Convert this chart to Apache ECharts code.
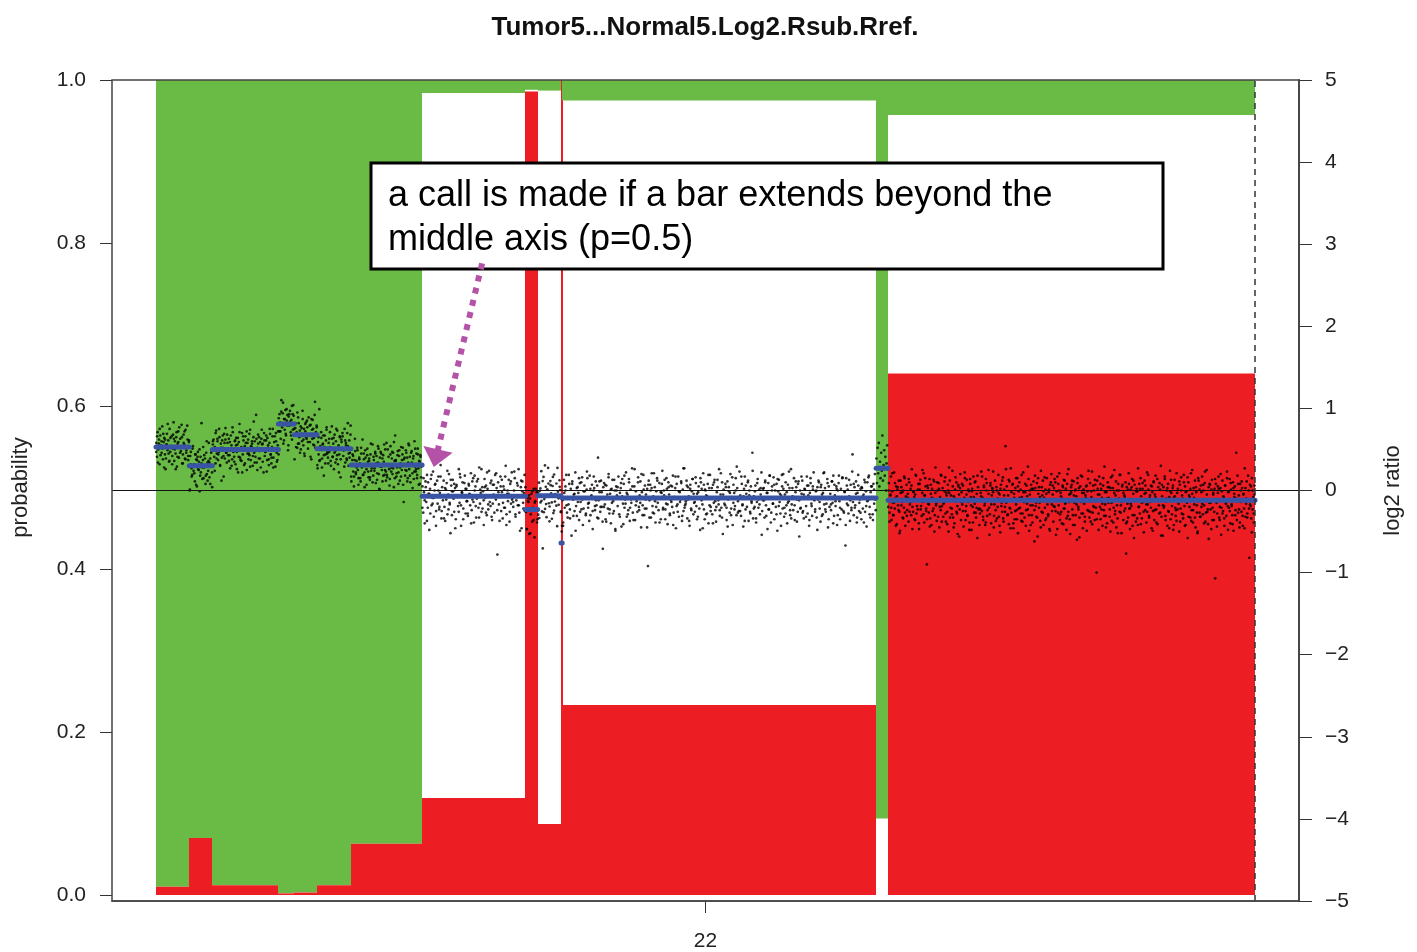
<!DOCTYPE html>
<html><head><meta charset="utf-8">
<script src="https://cdn.jsdelivr.net/npm/echarts@6/dist/echarts.min.js"></script>
<style>html,body{margin:0;padding:0;background:#fff}#c{width:1417px;height:952px}</style>
</head><body><div id="c"></div>
<script>
// ---------- data (positions in Mb along chromosome 22) ----------
const chromLabels = ['22'];
const segStart = [15.00,16.11,16.88,19.08,19.61,20.37,21.50,23.87,27.31,27.72,28.50,28.54,39.00,39.40];
const segEnd   = [16.11,16.88,19.08,19.61,20.37,21.50,23.87,27.31,27.72,28.50,28.54,39.00,39.40,51.63];
const pGain    = [0.990,0.930,0.988,0.998,0.997,0.988,0.937,0.016,0.012,0.013,0.000,0.025,0.906,0.043];
const pLoss    = [0.010,0.070,0.012,0.002,0.003,0.012,0.063,0.119,0.986,0.087,1.000,0.233,0.000,0.640];
const segMean  = [0.53,0.30,0.50,0.81,0.68,0.51,0.31,-0.07,-0.23,-0.065,-0.64,-0.09,0.27,-0.12];
const probTicks = [0,0.2,0.4,0.6,0.8,1.0];
const ratioTicks = [-5,-4,-3,-2,-1,0,1,2,3,4,5];

// probe residuals (hundredths of log2 ratio, relative to segment mean), two probe sets per region
const regionStart = [15.00,23.87,39.00,39.40];
const regionEnd   = [23.87,39.00,39.40,51.63];
const residA = [
5,-12,18,-3,9,-21,14,2,-7,25,-15,6,11,-9,-27,3,16,-4,8,-18,
22,-6,1,13,-11,-2,30,-17,7,-8,12,-24,4,19,-13,-1,10,-5,27,-20,
-9,15,3,-14,21,-7,0,9,-16,6,-30,12,17,-3,-11,24,-6,2,-19,14,
8,-25,11,-4,5,20,-12,-8,52,-2,7,-15,13,1,-22,16,-10,4,-6,28,
-14,9,-1,18,-26,6,12,-9,3,-17,23,-5,10,-13,-3,15,-20,7,-38,11,
2,-8,19,-11,26,-4,-16,8,0,13,-7,-23,17,5,-12,21,-2,-9,10,-18,
14,-3,6,-28,9,31,-10,1,-14,20,-6,11,-19,4,16,-1,-25,8,12,-5,
-7,24,-13,3,7,-20,15,-4,10,-9,42,-16,2,18,-11,-2,9,-22,13,6,
-15,1,20,-8,-3,11,-27,14,5,-12,8,19,-6,-17,3,25,-10,0,16,-21,
10,-4,-13,22,7,-9,2,-18,29,-1,13,-24,6,-7,17,-14,4,11,-32,9,
-2,16,-10,5,-19,12,23,-6,-1,8,-15,3,27,-11,14,-3,-22,10,1,-8,
19,-13,7,-26,4,15,-5,9,-17,21,0,-9,12,-30,6,18,-12,-4,24,-16,
3,11,-20,8,-7,48,-14,-1,13,-23,5,16,-8,2,-18,10,26,-6,-11,7,
-4,20,-15,1,12,-10,6,-25,17,-3,9,-13,22,-19,4,-7,14,-35,11,0,
15,-9,-2,24,-17,7,-12,19,3,-21,10,-5,28,-14,1,13,-8,-26,6,17,
-11,5,21,-6,-16,9,2,-20,14,-3,31,-12,7,-9,18,-1,-24,12,4,-15,
8,-18,13,-7,0,25,-13,6,-4,16,-22,11,-10,3,20,-29,9,-2,14,-6,
-20,12,4,-12,19,-8,27,-15,1,10,-5,-17,23,-3,8,-11,15,-27,5,36,
6,-14,-3,17,-9,11,-19,2,22,-6,13,-24,7,-1,-13,18,-7,9,-16,26,
-5,10,-21,15,3,-10,8,-17,29,-2,-8,14,-12,20,-4,5,-23,12,-15,1];
const residA2 = [
-6,13,-19,4,22,-10,7,-2,16,-25,9,-14,3,28,-8,-17,11,1,-21,15,
10,-3,-27,18,-12,6,24,-7,-1,12,-20,5,19,-15,-4,26,-11,8,-29,2,
-13,21,0,-9,14,-23,7,17,-5,-31,11,3,-16,23,-2,9,-12,30,-18,6,
4,-22,16,-8,10,-1,-26,20,-11,13,-6,25,-19,2,-10,17,-33,8,12,-4,
18,-7,-14,9,1,-20,27,-3,-15,11,5,-24,14,-9,21,-13,3,-28,16,-1,
-17,8,22,-5,-12,19,-21,4,10,-8,34,-16,-2,13,-25,7,15,-11,0,24,
7,-28,11,-3,17,-13,2,-19,25,-6,-10,16,-22,9,-1,20,-15,5,-37,12,
-9,15,-4,26,-20,6,-12,18,-2,-26,12,3,-14,22,-7,10,-30,14,1,-16,
21,-11,5,-18,8,29,-6,-23,13,-3,17,-9,-1,11,-27,19,-5,7,-13,40,
-1,9,-24,14,-15,3,20,-12,6,-33,16,-7,23,-4,-18,12,2,-21,27,-10,
13,-5,-17,24,-8,1,-29,15,-13,8,19,-2,-22,10,4,-14,31,-6,-11,17,
-20,6,11,-14,32,-9,-3,18,-24,7,-16,21,0,-12,14,-27,9,-5,20,-8,
5,-15,26,-4,-21,10,-7,14,2,-18,23,-11,-30,16,-2,8,-13,25,-6,-19,
-12,19,-1,-25,13,-8,16,-4,28,-16,5,-10,12,-23,18,-3,-14,6,21,-45,
9,-6,15,-20,3,24,-13,-1,17,-28,11,-8,20,-5,-16,13,-24,4,10,-2];
const residB = [
12,-20,5,-33,18,-7,26,-14,3,-41,9,21,-11,-2,30,-25,7,15,-18,1,
-9,24,-16,4,38,-27,11,-5,19,-13,-30,8,16,-22,2,27,-10,-45,13,6,
20,-3,-19,10,-28,14,1,-12,33,-8,23,-36,5,17,-15,-1,25,-21,9,-6,
-24,15,3,-11,28,-17,-4,22,-32,7,12,-26,18,0,-14,35,-9,4,-19,11,
6,-35,21,-2,13,-23,9,-16,31,-7,-12,19,-29,14,2,-20,26,-4,10,-71,
17,-10,-1,24,-18,5,-27,12,8,-14,37,-22,3,-6,20,-31,15,-9,29,-2,
-13,7,22,-25,-5,16,-11,33,-20,1,11,-39,18,-8,4,-17,27,-3,-24,14,
9,-30,13,-6,19,-15,2,25,-34,10,-1,21,-12,-23,16,6,-8,30,-19,-64,
23,-4,-16,11,-26,8,34,-9,-13,18,3,-28,12,-21,26,-7,0,15,-37,5,
-11,19,7,-20,14,-3,-30,22,-12,9,28,-18,1,-8,17,-25,11,-46,20,-2,
4,-16,31,-10,-22,13,6,-27,18,-5,-14,25,-33,8,15,-1,-19,10,24,-12,
-6,27,-21,2,16,-38,9,12,-15,20,-9,-24,49,-3,7,-17,21,-11,-29,13,
18,-8,-26,15,1,-13,29,-19,5,-31,11,22,-4,-16,9,-40,14,3,-10,26,
-20,6,12,-35,23,-7,17,-12,-2,31,-23,4,-15,19,-28,10,-6,36,-18,0,
14,-27,8,-4,-17,25,-11,3,20,-36,7,-9,28,-21,15,-2,-13,11,-83,21,
-3,16,-24,30,-10,2,-19,13,-30,8,24,-6,-15,18,-1,-26,6,33,-12,9,
22,-14,-7,11,-32,19,4,-21,15,-5,-11,27,-18,1,12,-37,17,-8,26,-23,
7,-2,18,-28,10,-16,36,-9,-4,21,-25,13,2,-34,16,-13,8,23,-20,-6,
-17,25,-10,5,-23,14,-1,-39,19,11,-8,30,-14,-26,9,3,-19,17,-31,12,
28,-11,0,-20,16,-6,22,-15,-29,7,13,-3,35,-22,4,-12,19,-44,10,-7,
-9,13,-27,20,-2,8,-18,29,-13,1,-33,16,6,-10,24,-21,12,-4,-16,32,
3,-22,17,-8,-35,11,26,-14,5,-1,19,-28,9,-17,14,-6,55,-25,2,-11,
15,-30,-5,23,-12,10,-20,4,31,-16,-3,12,-24,21,-9,6,-38,18,-14,27,
-1,-18,14,-7,25,-26,9,-11,17,-40,8,22,-5,-19,3,28,-13,11,-23,4,
19,-9,-31,16,-4,12,-21,35,-8,2,-15,24,-27,7,13,-2,-17,20,-47,9,
-12,5,21,-16,-25,11,1,-10,26,-19,15,-34,6,18,-7,-22,10,31,-3,-14,
8,-24,13,-2,19,-13,-29,16,4,-20,30,-8,12,-17,-1,23,-36,14,-11,5,
-15,20,-6,27,-22,3,-10,14,-33,9,18,-4,-26,11,-14,25,0,-18,7,-58,
24,-7,10,-19,2,-28,16,-12,32,-5,-21,13,-9,20,-30,6,15,-16,-2,11,
-26,12,-13,4,22,-17,8,-35,19,-3,27,-11,-24,14,1,-20,17,-7,29,-15];
const residB_2 = [
-14,22,-5,11,-30,17,3,-21,26,-9,-2,14,-36,19,7,-13,24,-18,1,-27,
10,-4,31,-16,-8,20,-23,6,15,-39,12,-1,-19,27,-11,4,-28,16,9,-6,
-21,13,2,-33,18,-7,25,-12,-3,21,-26,8,33,-15,-5,11,-20,29,-10,0,
16,-25,-9,14,-1,28,-17,5,-30,12,20,-8,-14,24,-35,7,3,-19,18,-4,
-7,30,-22,1,13,-11,-42,19,6,-15,26,-3,-24,10,17,-29,-2,22,-13,8,
25,-16,4,-27,9,-6,18,-20,37,-10,-1,15,-31,13,-8,23,-18,2,-12,34,
-3,11,-19,21,-34,6,14,-9,-24,28,-14,0,17,-22,5,-40,12,-5,24,-17,
19,-2,-13,8,-21,32,-7,-28,11,3,-16,26,-10,-3,15,-25,20,-11,7,-62,
-11,16,-29,4,25,-14,10,-6,-19,22,-38,9,13,-1,-23,18,2,-32,27,-7,
6,-20,23,-12,-2,14,-27,35,-9,1,19,-15,-6,29,-21,10,-13,4,-36,16,
-24,9,12,-18,30,-4,-11,21,-1,-30,7,17,-14,3,-26,24,-8,13,-19,-3,
14,-33,1,26,-10,-17,8,-5,20,-22,36,-12,-7,15,-2,-28,11,-15,23,5,
-5,18,-26,7,-13,24,-3,-37,16,10,-20,2,28,-9,-16,12,-31,19,-4,-11,
22,-8,-15,30,-24,4,-1,17,-12,-35,13,6,-21,25,-6,-14,9,38,-18,1,
-16,26,-9,2,-28,15,-11,21,3,-19,-4,33,-13,8,-25,18,-2,-8,12,-45,
11,-3,19,-22,6,-14,27,-30,9,-7,16,-1,-20,23,-10,5,-34,14,29,-12,
-19,7,-6,32,-15,-25,12,1,-9,20,-29,17,-3,-13,26,-18,4,10,-23,15,
3,-27,24,-10,14,-2,-17,9,-39,21,-5,13,-22,6,31,-14,-7,18,-26,0,
-8,20,-31,16,-4,11,-21,27,-12,-1,24,-16,8,-33,15,-9,22,-3,-15,53,
17,-12,5,-24,28,-6,-18,13,2,-30,19,-10,-4,25,-20,7,14,-27,10,-2];
const residBB = [12,-18,25,-6,31,-22,8,-12,19,-3,40,-15,4,22,-9,14,-27,6,28,-1];
const residC = [
-8,21,-15,6,29,-24,11,-3,-18,34,-10,2,17,-29,13,-6,24,-14,-37,9,
16,-2,-21,12,-9,27,-31,5,19,-12,3,-26,22,-5,14,-18,38,-8,-14,10,
-23,7,31,-16,1,-11,20,-35,13,25,-7,-19,9,-2,33,-27,6,17,-13,-78,
18,-4,-15,26,-22,8,-30,14,2,-10,23,-18,40,-6,-25,12,-1,21,-33,4,
-12,30,-7,15,-20,-3,11,28,-26,6,-14,19,-38,9,24,-9,1,-17,36,-21,
5,-28,13,-1,22,-16,-41,17,7,-11,32,-24,10,-5,18,-32,3,27,-13,-7,
25,-19,-2,11,-27,20,4,-36,14,-8,29,-15,-4,23,-21,8,-46,16,0,-10,
-16,9,35,-13,3,-24,18,-6,-30,26,12,-19,1,37,-9,-17,21,-28,6,14,
10,-33,-5,24,-12,16,-22,2,31,-20,7,-39,19,-3,-14,28,-26,13,-8,66,
-3,17,-18,6,-29,23,-10,39,-15,1,20,-34,8,-23,15,-5,-12,27,-40,11,
22,-9,13,-25,4,-16,34,-2,-21,10,-31,18,5,-11,26,-37,12,-6,19,-18,
-27,14,1,-12,30,-7,-20,21,-44,8,16,-3,-25,36,-14,6,24,-30,3,-9,
13,-22,27,-5,-17,10,-35,19,-1,32,-13,7,-26,15,-8,22,-42,11,29,-15,
-6,33,-24,9,-14,2,18,-29,25,-10,-4,14,-36,20,-19,38,-2,-23,8,16,
19,-11,-30,23,-3,12,-18,5,-48,27,-8,15,-21,1,30,-16,9,-34,13,-4,
-20,6,17,-37,11,26,-13,-1,21,-26,4,35,-15,-7,12,-24,19,-9,-88,24,
7,-16,29,-8,-23,14,3,-31,18,-12,41,-5,-19,10,-28,22,-3,16,-11,-38,
28,-25,-2,15,-9,37,-17,6,-33,12,-22,20,2,-14,31,-6,-40,17,-1,9,
-13,4,22,-28,16,-4,-21,33,-10,-35,13,-7,26,-18,8,-46,19,0,-26,14,
11,-30,-8,20,-16,27,5,-22,14,-2,-39,24,-12,9,-27,34,-5,13,-19,3,
-2,18,-34,10,-13,23,-24,7,30,-11,1,-29,16,-6,21,-15,42,-20,5,-43,
16,-7,26,-19,-1,12,-31,20,-14,4,36,-23,9,-17,15,-36,3,25,-9,-12,
-25,9,14,-4,-38,19,-10,28,-16,2,-22,31,-7,17,-30,11,-3,-46,22,6,
4,-21,33,-12,8,-27,15,-5,24,-33,10,-15,-40,27,-1,13,-20,18,-8,29,
-17,12,-6,21,-26,1,37,-14,-29,16,-3,19,-11,-35,25,-9,7,-24,14,-95,
20,-3,-16,9,29,-21,-8,15,-42,11,24,-13,3,-31,18,-4,-19,35,-7,10,
-9,26,-28,13,-5,-18,22,-37,8,17,-12,2,-24,30,-15,6,-33,20,-2,-14,
15,-31,7,-10,39,-20,-4,23,-16,1,12,-70,19,-7,-22,27,-11,4,-27,18];
const residC2 = [
12,-26,7,-9,33,-18,-3,21,-31,5,16,-12,-40,24,-6,10,-22,29,-15,2,
-19,8,26,-14,-2,18,-35,11,4,-24,30,-7,13,-28,20,-11,-1,37,-17,6,
27,-10,-23,15,-5,-32,19,3,-13,25,-38,9,-4,22,-20,14,-8,31,-26,1,
-4,23,-16,9,-29,12,40,-21,6,-10,17,-33,2,28,-14,-7,19,-44,15,-2,
20,-13,-1,34,-24,7,-18,13,-36,26,-6,11,-27,4,22,-15,-9,30,-11,-30,
-11,5,29,-20,16,-3,-27,21,-12,8,-42,18,-5,15,35,-19,1,-25,12,-8,
9,-31,14,-7,24,-22,6,-14,38,-1,-17,25,-9,-34,10,19,-28,3,-13,27,
-23,17,-10,3,-16,31,-26,10,-2,20,-12,-4,41,-18,7,-30,14,-6,23,-50,
15,-3,-21,27,-9,4,-33,16,-15,11,28,-24,8,-1,-19,13,-37,22,-5,18,
-7,26,-13,1,-35,20,12,-17,5,-28,16,-10,24,-3,-22,32,-14,7,-41,10,
24,-18,6,-30,13,-5,21,-11,-45,17,-2,29,-16,9,-26,3,18,-12,36,-21,
-14,11,-29,18,-8,25,-1,-23,14,-36,7,20,-11,-4,27,-19,10,-33,2,16,
3,-20,15,-3,30,-27,9,-13,23,-6,-40,12,31,-15,-2,19,-24,6,-10,-65,
-26,13,20,-10,-4,16,-31,24,-18,1,11,-22,39,-8,14,-29,-3,21,-14,8,
18,-5,-14,31,-21,6,-9,17,-37,22,-12,4,-27,26,-1,-16,13,-43,19,-6,
-9,29,-24,2,15,-13,-34,11,25,-7,18,-30,5,-19,33,-11,0,23,-26,12,
6,-17,22,-31,10,-2,28,-20,-8,14,-25,37,-12,3,-21,16,-6,-38,24,-15,
-20,10,-4,19,-28,35,-15,7,-11,-47,20,-3,13,-24,9,-14,26,-1,-32,17,
14,-24,32,-9,-16,5,-22,18,-3,27,-36,11,-13,21,-7,-29,15,4,-18,58,
-1,20,-11,-27,12,23,-19,8,-34,15,2,-21,30,-10,-5,17,-39,12,-16,7];
// [region index, residual set]
const probeSets = [[0, residA], [0, residA2], [1, residB], [1, residB_2], [2, residBB], [3, residC], [3, residC2]];

// ---------- styling ----------
const GREEN = '#6aba46', RED = '#ed1d24', BLUE = '#3a54a5', ARROW = '#b452a8';
const FONT = '"Liberation Sans", Arial, Helvetica, sans-serif';

// ---------- derived ----------
const chromStart = segStart[0], chromEnd = segEnd[segEnd.length - 1];
const pad = 0.04 * (chromEnd - chromStart);
const XMIN = chromStart - pad, XMAX = chromEnd + pad;
function meanAt(x) {
  for (let i = 0; i < segStart.length; i++) if (x >= segStart[i] && x < segEnd[i]) return segMean[i];
  return segMean[segMean.length - 1];
}
const points = [];
probeSets.forEach(([r, arr], k) => {
  const s = regionStart[r], e = regionEnd[r], n = arr.length;
  const off = (k % 2) ? 0.25 : 0.5;
  arr.forEach((v, i) => {
    const x = s + (i + off) * (e - s) / n;
    points.push([x, meanAt(x) + v / 100]);
  });
});
const barData = segStart.map((s, i) => [s, segEnd[i], pGain[i], pLoss[i]]);
const segData = segStart.map((s, i) => [s, segEnd[i], segMean[i]]);

const chart = echarts.init(document.getElementById('c'), null, {renderer: 'canvas'});
const axisTxt = {fontSize: 21, color: '#222', fontFamily: FONT};
chart.setOption({
  animation: false,
  backgroundColor: '#fff',
  title: {text: 'Tumor5...Normal5.Log2.Rsub.Rref.', left: 700, top: 10, textAlign: 'center',
    textStyle: {fontSize: 26, fontWeight: 'bold', color: '#111', fontFamily: FONT}},
  grid: [
    {left: 112, top: 80, width: 1187, height: 815},
    {left: 112, top: 80, width: 1187, height: 823, show: true, borderColor: '#444', borderWidth: 1.5, z: 10}
  ],
  xAxis: [
    {gridIndex: 0, type: 'value', min: XMIN, max: XMAX, show: false},
    {gridIndex: 1, type: 'value', min: XMIN, max: XMAX, show: false, position: 'top'},
    {gridIndex: 1, type: 'category', data: chromLabels, position: 'bottom',
      axisLine: {show: true, lineStyle: {color: '#444', width: 1.5}},
      axisTick: {show: true, alignWithLabel: true, length: 12, lineStyle: {color: '#333'}},
      axisLabel: Object.assign({margin: 30}, axisTxt), splitLine: {show: false}}
  ],
  yAxis: [
    {gridIndex: 0, type: 'value', min: probTicks[0], max: probTicks[probTicks.length - 1], interval: 0.2, position: 'left',
      axisLine: {show: false}, axisTick: {show: true, length: 12, lineStyle: {color: '#333'}},
      axisLabel: Object.assign({margin: 26, formatter: v => v.toFixed(1)}, axisTxt),
      splitLine: {show: false},
      name: 'probability', nameLocation: 'middle', nameGap: 80, nameRotate: 90,
      nameTextStyle: {fontSize: 22, color: '#222', fontFamily: FONT}},
    {gridIndex: 1, type: 'value', min: ratioTicks[0], max: ratioTicks[ratioTicks.length - 1], interval: 1, position: 'right',
      axisLine: {show: true, lineStyle: {color: '#555', width: 2}},
      axisTick: {show: true, length: 13, lineStyle: {color: '#333'}},
      axisLabel: Object.assign({margin: 26, formatter: v => v < 0 ? '\u2212' + Math.abs(v) : String(v)}, axisTxt),
      splitLine: {show: false},
      name: 'log2 ratio', nameLocation: 'middle', nameGap: 83, nameRotate: 90,
      nameTextStyle: {fontSize: 22, color: '#222', fontFamily: FONT}}
  ],
  series: [
    {
      type: 'custom', xAxisIndex: 0, yAxisIndex: 0, z: 1, silent: true,
      data: barData, encode: {x: [0, 1], y: [2, 3]},
      renderItem(params, api) {
        const x0 = api.value(0), x1 = api.value(1), g = api.value(2), l = api.value(3);
        const a = api.coord([x0, 1]), b = api.coord([x1, 1 - g]);
        const c = api.coord([x0, l]), d = api.coord([x1, 0]);
        const L = Math.round(a[0]), R = Math.max(Math.round(b[0]), L + 2);
        const ch = [];
        if (g > 0) ch.push({type: 'rect', shape: {x: L, y: a[1], width: R - L, height: b[1] - a[1]}, style: {fill: GREEN}});
        if (l > 0) ch.push({type: 'rect', shape: {x: L, y: c[1], width: R - L, height: d[1] - c[1]}, style: {fill: RED}});
        return {type: 'group', children: ch};
      }
    },
    {
      type: 'scatter', xAxisIndex: 1, yAxisIndex: 1, z: 3, silent: true,
      symbol: 'circle', symbolSize: 2.7, itemStyle: {color: '#000'},
      data: points
    },
    {
      type: 'custom', xAxisIndex: 1, yAxisIndex: 1, z: 4, silent: true,
      data: segData, encode: {x: [0, 1], y: 2},
      renderItem(params, api) {
        const a = api.coord([api.value(0), api.value(2)]), b = api.coord([api.value(1), api.value(2)]);
        return {type: 'line', shape: {x1: a[0], y1: a[1], x2: b[0], y2: b[1]},
          style: {stroke: BLUE, lineWidth: 5, lineCap: 'round'}};
      },
      markLine: {
        silent: true, symbol: 'none', label: {show: false}, z: 5,
        data: [
          {yAxis: 0, lineStyle: {type: 'solid', color: '#111', width: 1}},
          {xAxis: chromEnd, lineStyle: {type: [6, 5], color: '#333', width: 1.5}}
        ]
      }
    },
    {
      type: 'line', xAxisIndex: 0, yAxisIndex: 0, data: [], z: 200,
      markLine: {
        silent: true, label: {show: false}, z: 200, animation: false,
        lineStyle: {color: ARROW, width: 6, type: [6, 6.5], cap: 'butt'},
        data: [[
          {coord: [25.87, 0.775], symbol: 'none'},
          {coord: [24.33, 0.536], symbol: 'path://M15,0 L30,17 L0,17 Z', symbolSize: [30, 18],
            itemStyle: {color: ARROW}}
        ]]
      }
    }
  ],
  graphic: [
    {type: 'rect', z: 100, shape: {x: 371, y: 163, width: 792, height: 106},
      style: {fill: '#fff', stroke: '#000', lineWidth: 3}},
    {type: 'text', z: 101, x: 388, y: 174,
      style: {text: 'a call is made if a bar extends beyond the\nmiddle axis (p=0.5)', fontSize: 36, lineHeight: 44,
        fontFamily: FONT, fill: '#000'}}
  ]
});
</script></body></html>
